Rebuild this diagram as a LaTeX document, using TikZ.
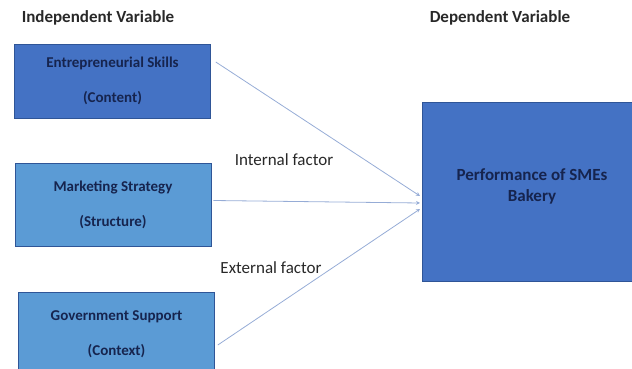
\documentclass[tikz,border=0pt]{standalone}
\usepackage{fontspec}
\setmainfont{Carlito}
\usetikzlibrary{positioning, arrows.meta, calc}
\definecolor{deepblue}{RGB}{68,114,196}
\definecolor{skyblue}{RGB}{91,155,213}
\definecolor{edgeblue}{RGB}{47,85,151}
\definecolor{navy}{RGB}{22,36,78}
\definecolor{wire}{RGB}{150,172,214}
\definecolor{ink}{RGB}{40,40,40}

\begin{document}
\begin{tikzpicture}[
  x=1pt, y=-1pt,
  var/.style={draw=edgeblue, line width=0.6pt, fill=skyblue, align=center,
              font=\bfseries\fontsize{15}{18}\selectfont, text=navy,
              minimum width=196pt, minimum height=83pt, inner sep=0pt},
  dep/.style={var, fill=deepblue, font=\bfseries\fontsize{17}{21}\selectfont,
              minimum width=220pt, minimum height=179pt},
  head/.style={font=\bfseries\fontsize{17}{20}\selectfont, text=ink},
  note/.style={font=\fontsize{17}{20}\selectfont, text=ink},
  link/.style={-{Stealth[length=4pt, width=4pt]}, draw=wire, line width=0.8pt}]

  \useasboundingbox (0,0) rectangle (632,369);
  \clip (0,0) rectangle (632,369);

  % --- column headings
  \node[head] (indep) at ( 98, 18) {Independent Variable};
  \node[head] (dept)  at (500, 18) {Dependent Variable};

  % --- the three drivers on the left
  \node[var, fill=deepblue, minimum height=74pt] (skills) at (112.5, 81)
    {Entrepreneurial Skills\\[17pt](Content)};
  \node[var] (mkt) at (113, 204.5) {Marketing Strategy\\[17pt](Structure)};
  \node[var] (gov) at (116.5, 334)  {Government Support\\[17pt](Context)};

  % --- outcome on the right
  \node[dep] (perf) at (532, 191.5) {Performance of SMEs\\Bakery\\[-8pt]};

  % arrow tips bunch up on the outcome's left edge
  \coordinate (tipA) at (420, 196);
  \coordinate (tipB) at (420, 203);
  \coordinate (tipC) at (420, 209);

  \draw[link] ([xshift=5pt, yshift=19pt]skills.east) -- (tipA);
  \draw[link] ([xshift=2pt, yshift=4pt]mkt.east) -- (tipB);
  \draw[link] ([xshift=3pt, yshift=-11pt]gov.east) -- (tipC);

  \node[note] (inner) at (284, 160) {Internal factor};
  \node[note] (outer) at (271, 268) {External factor};
\end{tikzpicture}
\end{document}
